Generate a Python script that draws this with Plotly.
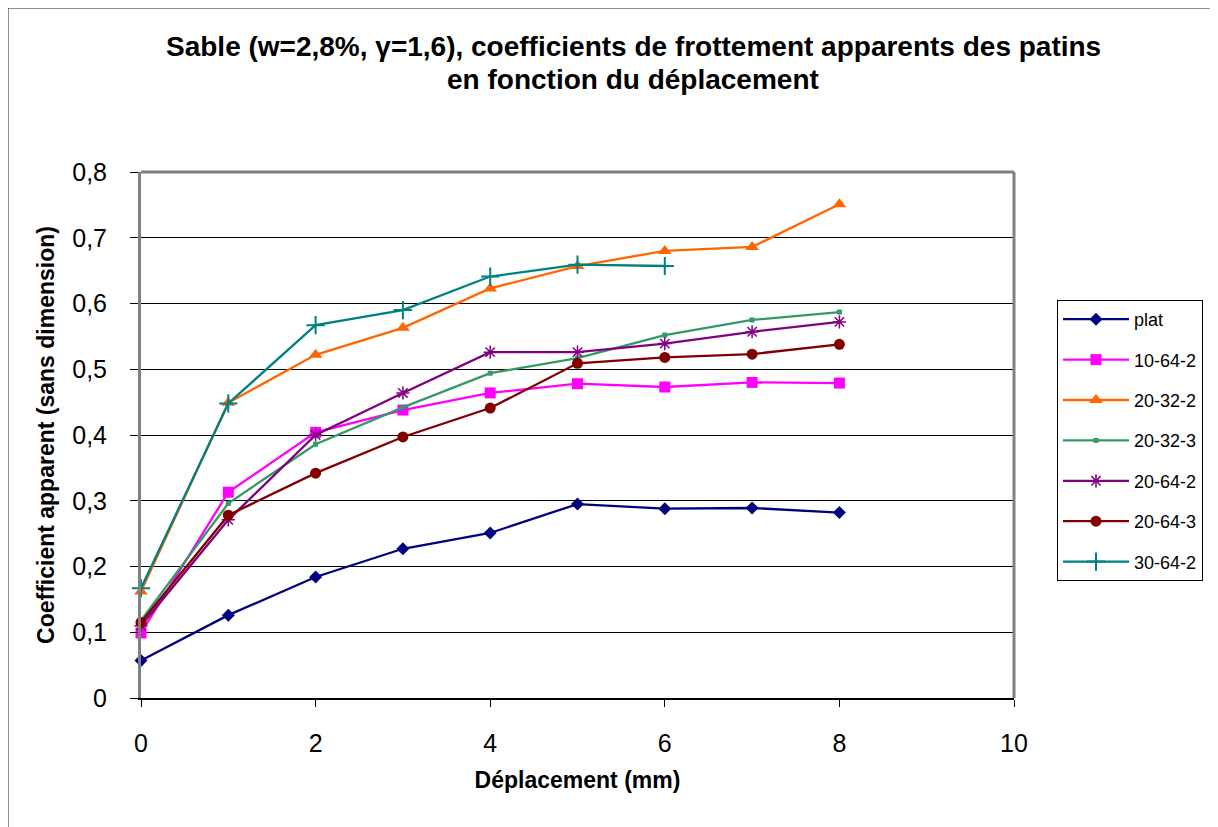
import plotly.graph_objects as go

x_vals = [0, 1, 2, 3, 4, 5, 6, 7, 8]
x_short = [0, 1, 2, 3, 4, 5, 6]

plat = [0.057, 0.126, 0.184, 0.227, 0.251, 0.295, 0.288, 0.289, 0.282]
s10_64_2 = [0.099, 0.313, 0.404, 0.438, 0.464, 0.478, 0.473, 0.480, 0.479]
s20_32_2 = [0.162, 0.449, 0.522, 0.563, 0.623, 0.657, 0.680, 0.686, 0.751]
s20_32_3 = [0.118, 0.296, 0.386, 0.442, 0.494, 0.517, 0.552, 0.575, 0.587]
s20_64_2 = [0.110, 0.271, 0.400, 0.464, 0.526, 0.526, 0.539, 0.557, 0.572]
s20_64_3 = [0.115, 0.278, 0.342, 0.397, 0.441, 0.509, 0.518, 0.523, 0.538]
s30_64_2 = [0.167, 0.448, 0.567, 0.590, 0.641, 0.659, 0.657]

names = ["plat", "10-64-2", "20-32-2", "20-32-3", "20-64-2", "20-64-3", "30-64-2"]

title_lines = ["Sable (w=2,8%, γ=1,6), coefficients de frottement apparents des patins",
               "en fonction du déplacement"]

y_tickvals = [0, 0.1, 0.2, 0.3, 0.4, 0.5, 0.6, 0.7, 0.8]
y_ticktext = ["0", "0,1", "0,2", "0,3", "0,4", "0,5", "0,6", "0,7", "0,8"]
x_tickvals = [0, 2, 4, 6, 8, 10]
x_ticktext = ["0", "2", "4", "6", "8", "10"]

series = [
    (names[0], x_vals, plat, "#000080", "diamond", 10, {}),
    (names[1], x_vals, s10_64_2, "#FF00FF", "square", 11, {}),
    (names[2], x_vals, s20_32_2, "#FF6600", "triangle-up", 12, {}),
    (names[3], x_vals, s20_32_3, "#339966", "square", 5, {}),
    (names[4], x_vals, s20_64_2, "#800080", "asterisk-open", 11, {"line": {"width": 1.5, "color": "#800080"}}),
    (names[5], x_vals, s20_64_3, "#800000", "circle", 11, {}),
    (names[6], x_short, s30_64_2, "#008080", "cross-thin-open", 13, {"line": {"width": 2, "color": "#008080"}}),
]

fig = go.Figure()
for i, (nm, xs, ys, col, sym, sz, extra) in enumerate(series):
    marker = dict(symbol=sym, size=sz, color=col)
    marker.update(extra)
    fig.add_trace(go.Scatter(
        x=xs, y=ys, name=nm, mode="lines+markers",
        line=dict(color=col, width=2.3),
        marker=marker, cliponaxis=False, legendgroup=f"g{i}",
    ))

W, H = 1218, 827
OFF = 8  # page offset of the figure in the screenshot
SL, SR, ST, SB = 141, 1014, 172, 698
L, R, T, B = SL - OFF, SR - OFF, ST - OFF, SB - OFF


def px_x(p):
    return (p - SL) / (SR - SL)


def px_y(p):
    return (SB - p) / (SB - ST)


FONT = "Liberation Sans, Arial, sans-serif"

fig.update_layout(
    width=W, height=H,
    margin=dict(l=L, r=W - R, t=T, b=H - B, autoexpand=False),
    paper_bgcolor="white", plot_bgcolor="white",
    font=dict(family=FONT, color="black"),
    showlegend=True,
    legend=dict(
        x=px_x(1057), y=px_y(300), xanchor="left", yanchor="top",
        bordercolor="black", borderwidth=1, bgcolor="white",
        font=dict(size=18, color="black"),
        traceorder="grouped", tracegroupgap=14,
        itemwidth=66,
    ),
    xaxis=dict(
        range=[0, 10], tickvals=x_tickvals, ticktext=x_ticktext,
        showgrid=False, zeroline=False,
        showline=True, linecolor="black", linewidth=2,
        ticks="outside", ticklen=7, tickcolor="black", tickwidth=1,
        tickfont=dict(size=25, color="black"),
        ticklabelstandoff=15,
        title=dict(text="<b>Déplacement (mm)</b>", font=dict(size=23, color="black"), standoff=16),
        automargin=False,
    ),
    yaxis=dict(
        range=[0, 0.8], tickvals=y_tickvals, ticktext=y_ticktext,
        showgrid=True, gridcolor="black", gridwidth=1,
        zeroline=False,
        showline=True, linecolor="#808080", linewidth=3,
        ticks="outside", ticklen=8, tickcolor="black", tickwidth=1,
        tickfont=dict(size=25, color="black"),
        ticklabelstandoff=18,
        title=dict(text="<b>Coefficient apparent (sans dimension)</b>", font=dict(size=23, color="black"), standoff=12),
        automargin=False,
    ),
    annotations=[
        dict(text=f"<b>{title_lines[0]}</b>", xref="paper", yref="paper",
             x=px_x(633), y=px_y(47), xanchor="center", yanchor="middle", showarrow=False,
             font=dict(size=28, family=FONT, color="black")),
        dict(text=f"<b>{title_lines[1]}</b>", xref="paper", yref="paper",
             x=px_x(633), y=px_y(79), xanchor="center", yanchor="middle", showarrow=False,
             font=dict(size=28, family=FONT, color="black")),
    ],
    shapes=[
        dict(type="line", xref="paper", yref="paper", x0=0, x1=1, y0=1, y1=1,
             line=dict(color="#808080", width=3)),
        dict(type="line", xref="paper", yref="paper", x0=1, x1=1, y0=0, y1=1,
             line=dict(color="#808080", width=3)),
        dict(type="line", xref="paper", yref="paper", x0=px_x(8), x1=px_x(1230), y0=px_y(8), y1=px_y(8),
             line=dict(color="#222222", width=1)),
        dict(type="line", xref="paper", yref="paper", x0=px_x(8), x1=px_x(8), y0=px_y(8), y1=px_y(840),
             line=dict(color="#222222", width=1)),
    ],
)

fig.write_html("out.html")
